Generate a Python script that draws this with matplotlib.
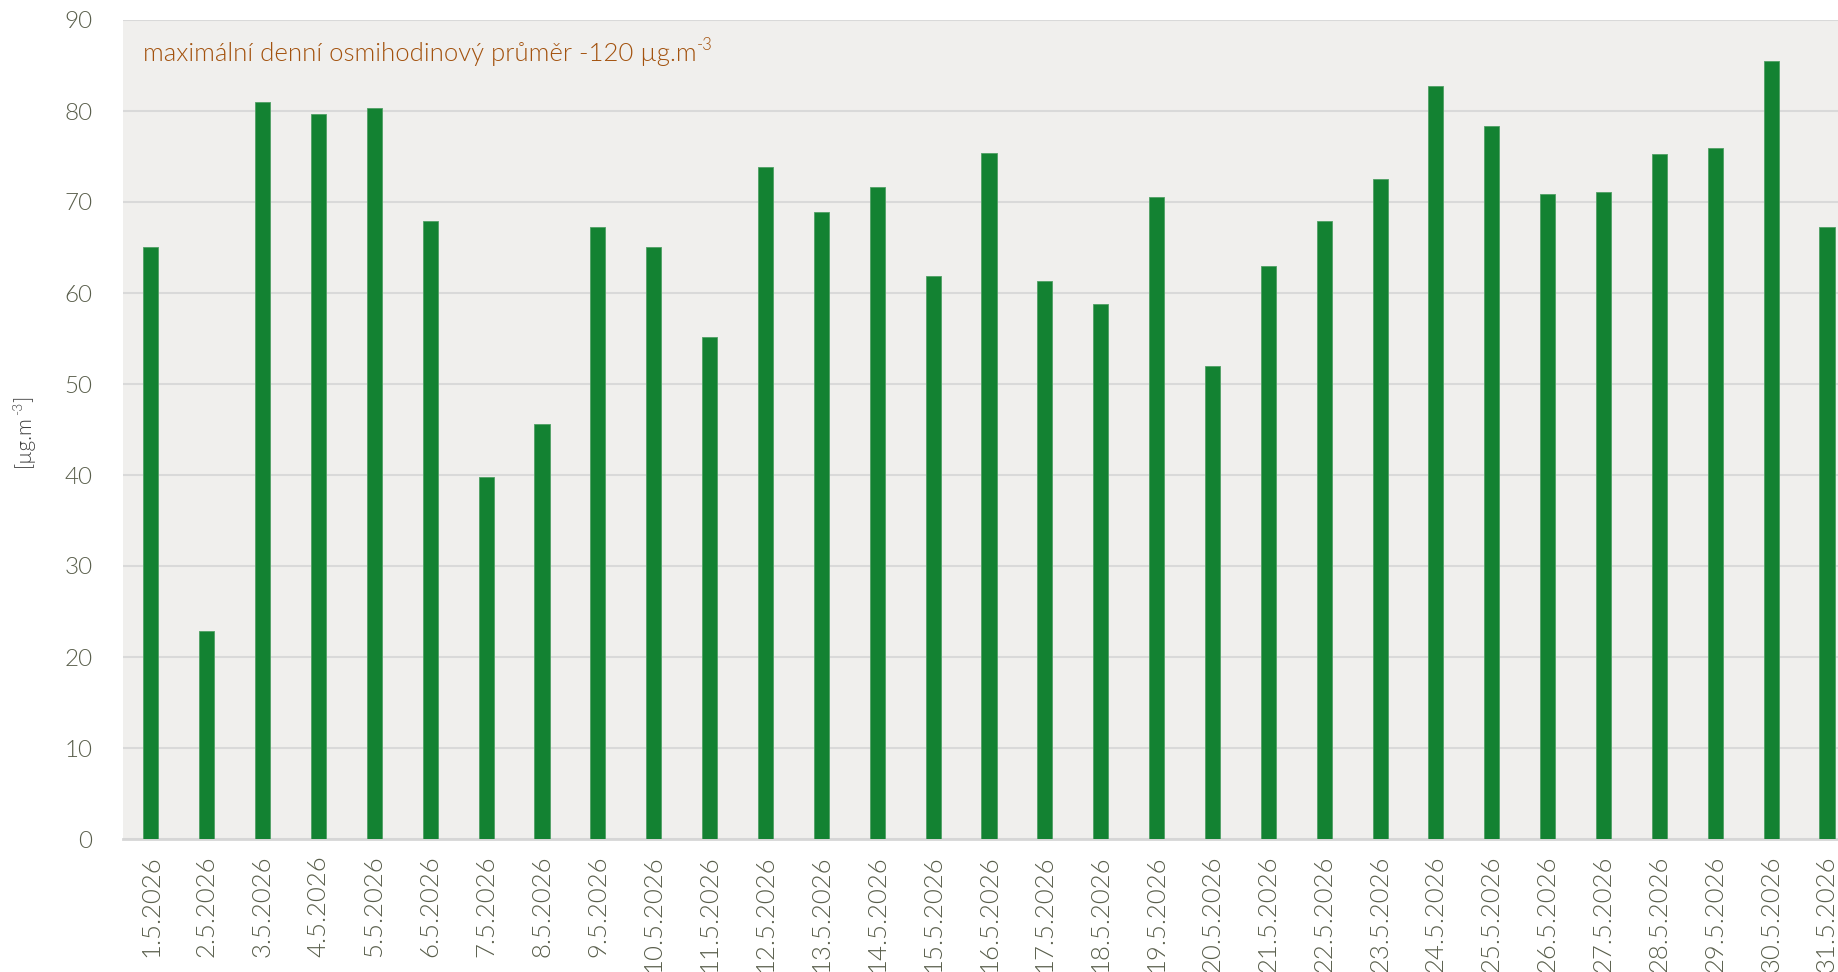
import matplotlib
matplotlib.use("Agg")
import matplotlib.pyplot as plt
from matplotlib.transforms import IdentityTransform
import numpy as np

# Data: maximum daily 8-hour mean ozone, May 2026
dny = [f"{d}.5.2026" for d in range(1, 32)]
hodnoty = [65.0, 22.9, 81.0, 79.7, 80.3, 67.9, 39.8, 45.6, 67.3, 65.0,
           55.2, 73.8, 68.9, 71.7, 61.9, 75.4, 61.3, 58.8, 70.6, 52.0,
           63.0, 67.9, 72.5, 82.7, 78.3, 70.9, 71.1, 75.3, 75.9, 85.5,
           67.2]
y_ticks = [0, 10, 20, 30, 40, 50, 60, 70, 80, 90]
popis = ["maximální denní osmihodinový průměr -120 µg.m", "-3"]
jednotka = ["[µg.m", "-3", "]"]

plt.rcParams['font.family'] = ['Lato', 'DejaVu Sans']
plt.rcParams['font.weight'] = 300

text_col = '#595E4B'
green = '#138232'

fig = plt.figure(figsize=(18.38, 9.72), dpi=100)
W, H = 1838, 972
left, right_px, top, bottom = 123, 123 + 31 * 55.87, 20, 839
ax = fig.add_axes([left / W, (H - bottom) / H, (right_px - left) / W, (bottom - top) / H])
ax.set_facecolor('#F0EFED')

x = np.arange(len(dny))
ax.bar(x, hodnoty, width=0.27, color=green, edgecolor='#4FA064', linewidth=0.6, zorder=3)

ax.set_xlim(-0.5, len(dny) - 0.5)
ax.set_ylim(0, 90)
ax.set_yticks(y_ticks)
ax.set_xticks(x)
ax.set_xticklabels(dny, rotation=90)
ax.grid(axis='y', color='#D9D9D9', linewidth=1.5, zorder=0)
for s in ['left', 'right', 'top']:
    ax.spines[s].set_visible(False)
ax.spines['bottom'].set_color('#D6D6D6')
ax.spines['bottom'].set_linewidth(2)
ax.tick_params(axis='y', length=0, pad=22, labelsize=17.5, labelcolor=text_col)
ax.tick_params(axis='x', length=0, pad=12, labelsize=18.5, labelcolor=text_col)


# text s horním indexem poskládaný z kousků (v pixelech)
def kousky(x0, y0, casti, velikosti, zdvih, rot=0, **kw):
    r = fig.canvas.get_renderer()
    pos = 0
    for s, size, up in zip(casti, velikosti, zdvih):
        if rot == 0:
            t = fig.text(x0 + pos, y0 + up, s, transform=IdentityTransform(),
                         fontsize=size, ha='left', va='baseline', **kw)
            pos += t.get_window_extent(r).width
        else:
            t = fig.text(x0 - up, y0 + pos, s, transform=IdentityTransform(),
                         fontsize=size, ha='left', va='baseline', rotation=90,
                         rotation_mode='anchor', **kw)
            pos += t.get_window_extent(r).height


kousky(143, H - 61, popis, [18.5, 12], [0, 11], color='#A3520E')
kousky(30, H - 467, jednotka, [15, 10, 15], [0, 8, 0], rot=90, color='#404040')

fig.savefig('out.png', dpi=100)
